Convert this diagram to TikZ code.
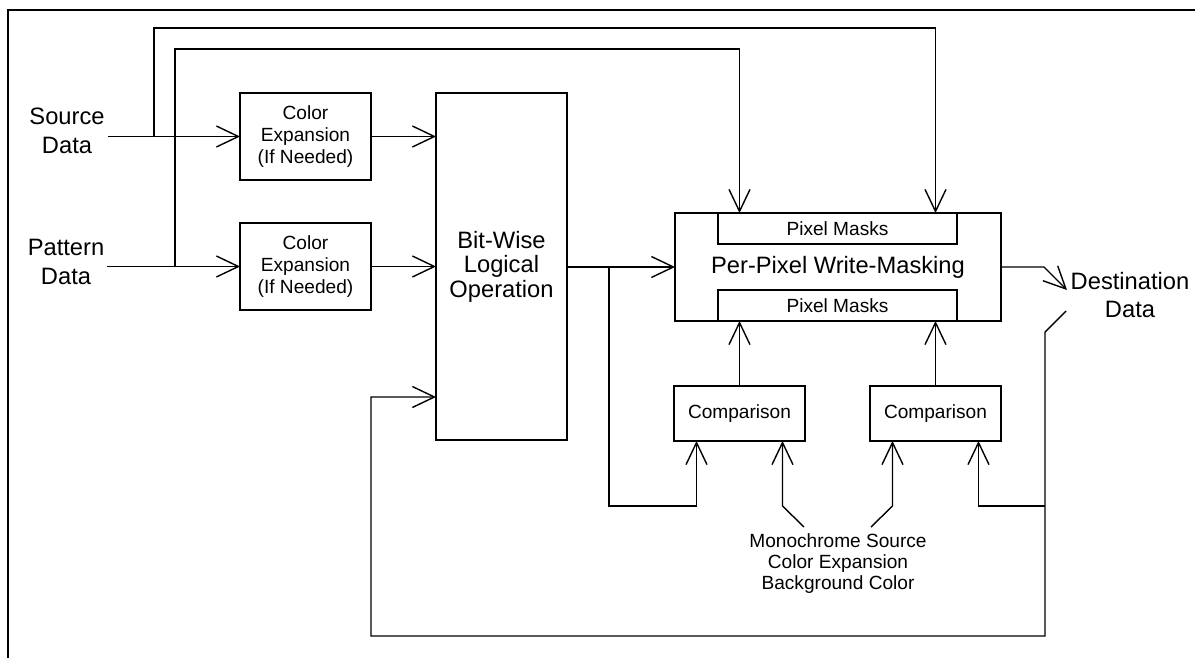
\documentclass[tikz,border=0pt]{standalone}
\usepackage{fontspec}
\setmainfont{Liberation Sans}
\usepackage{tikz}
\usetikzlibrary{arrows.meta, positioning}

\begin{document}
\begin{tikzpicture}[
        x=1pt, y=-1pt,
        block/.style={
            rectangle,
            draw=black,
            line width=1.4pt,
            inner sep=0pt,
            outer sep=0pt,
            minimum width=131pt,
            align=center,
            font=\fontsize{19.1}{21.7}\selectfont
        },
        maskbox/.style={
            block,
            minimum width=239pt,
            minimum height=31pt
        },
        iolabel/.style={
            align=center,
            inner sep=3pt,
            font=\fontsize{23.7}{28.5}\selectfont
        },
        arrow/.style={
            -{Straight Barb[length=22pt, width=21pt]},
            line width=1.4pt
        }
    ]
    \useasboundingbox (0,0) rectangle (1195,658);
    \draw[line width=2.3pt] (1195,10) -- (8,10) -- (8,658);

    \node[block, minimum height=87pt] (cexp1) at (305.5,136.5) {Color\\Expansion\\(If Needed)};
    \node[block, minimum height=87pt, below=43pt of cexp1] (cexp2) {Color\\Expansion\\(If Needed)};
    \node[block, minimum height=347pt, font=\fontsize{23.7}{24.5}\selectfont] (bitop) at (501.5,266.5) {Bit-Wise\\Logical\\Operation};
    \node[block, minimum width=326pt, minimum height=108pt, font=\fontsize{23.7}{28}\selectfont] (wmask) at (838,267) {Per-Pixel Write-Masking};
    \node[maskbox, anchor=north] (maskt) at ([xshift=-0.5pt]wmask.north) {Pixel Masks};
    \node[maskbox, anchor=south] (maskb) at ([xshift=-0.5pt]wmask.south) {Pixel Masks};
    \node[block, minimum height=55pt] (comp1) at (739.5,413.5) {Comparison};
    \node[block, minimum height=55pt, right=65pt of comp1] (comp2) {Comparison};

    \node[iolabel] (srclbl) at (67,131) {Source\\Data};
    \node[iolabel] (patlbl) at (66,262) {Pattern\\Data};
    \node[iolabel] (dstlbl) at (1130,295) {Destination\\Data};
    \node[iolabel, font=\fontsize{19.1}{21}\selectfont] (mono) at (838,564) {Monochrome Source\\Color Expansion\\Background Color};

    \coordinate (srcsplit) at (154,136);
    \coordinate (srctop) at (154,28);
    \coordinate (patsplit) at (175,267);
    \coordinate (pattop) at (175,49);
    \coordinate (opsplit) at (609,267);
    \coordinate (lowbus) at (609,506);
    \coordinate (c1a) at ([xshift=-43pt]comp1.south);
    \coordinate (c1b) at ([xshift=43pt]comp1.south);
    \coordinate (c2a) at ([xshift=-43pt]comp2.south);
    \coordinate (c2b) at ([xshift=43pt]comp2.south);
    \coordinate (monoL) at (804,527);
    \coordinate (monoR) at (871,527);
    \coordinate (outbend) at (1044,267);
    \coordinate (outtip) at (1067,290);
    \coordinate (fbstart) at (1066,311);
    \coordinate (fbbend) at (1045,332);
    \coordinate (fbsplit) at (1045,506);
    \coordinate (fbcorner) at (1045,636);
    \coordinate (fbleft) at (371,636);
    \coordinate (fbin) at ([yshift=-130.5pt]bitop.west);

    \draw[arrow] (srclbl.east |- cexp1.west) -- (cexp1.west);
    \draw[arrow] (patlbl.east |- cexp2.west) -- (cexp2.west);
    \draw[arrow] (srcsplit) -- (srctop) -| (comp2 |- wmask.north);
    \draw[arrow] (patsplit) -- (pattop) -| (comp1 |- wmask.north);
    \draw[arrow] (cexp1.east) -- (cexp1.east -| bitop.west);
    \draw[arrow] (cexp2.east) -- (cexp2.east -| bitop.west);
    \draw[arrow] (bitop.east |- wmask.west) -- (wmask.west);
    \draw[arrow] (opsplit) -- (lowbus) -| (c1a);
    \draw[arrow] (monoL) -- (c1b |- lowbus) -- (c1b);
    \draw[arrow] (monoR) -- (c2a |- lowbus) -- (c2a);
    \draw[arrow] (comp1.north) -- (comp1.north |- wmask.south);
    \draw[arrow] (comp2.north) -- (comp2.north |- wmask.south);
    \draw[arrow] (wmask.east) -- (outbend) -- (outtip);
    \draw[arrow] (fbstart) -- (fbbend) -- (fbcorner) -- (fbleft) |- (fbin);
    \draw[arrow] (fbsplit) -| (c2b);
\end{tikzpicture}
\end{document}
